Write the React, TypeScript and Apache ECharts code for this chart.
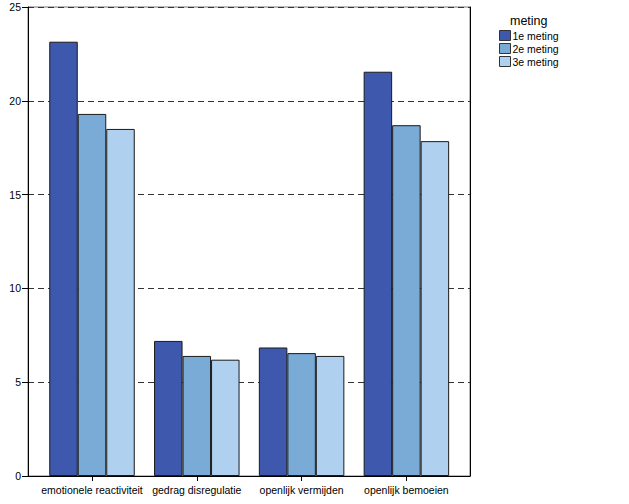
import React, { useEffect, useRef } from "react";
import * as echarts from "echarts";

const categories = ["emotionele reactiviteit", "gedrag disregulatie", "openlijk vermijden", "openlijk bemoeien"];
const seriesNames = ["1e meting", "2e meting", "3e meting"];
const meting1 = [23.15, 7.2, 6.85, 21.55];
const meting2 = [19.3, 6.4, 6.55, 18.7];
const meting3 = [18.5, 6.2, 6.4, 17.85];
const colors = ["#3D58AD", "#7AAAD6", "#AFD0EF"];
const yMin = 0;
const yMax = 25;
const yInterval = 5;

export default function App() {
  const ref = useRef<HTMLDivElement>(null);
  useEffect(() => {
    document.body.style.margin = "0";
    const chart = echarts.init(ref.current!, null, { renderer: "svg" });
    const font = "'Liberation Sans', Arial, sans-serif";
    const data = [meting1, meting2, meting3];
    chart.setOption({
      animation: false,
      backgroundColor: "#ffffff",
      title: {
        text: "meting",
        left: 505,
        top: 9,
        textStyle: { fontFamily: font, fontSize: 12.5, fontWeight: "normal", color: "#000" },
      },
      legend: {
        orient: "vertical",
        left: 494,
        top: 25,
        itemWidth: 11,
        itemHeight: 10,
        itemGap: 2,
        icon: "rect",
        data: seriesNames,
        textStyle: { fontFamily: font, fontSize: 10.5, color: "#000", lineHeight: 11, height: 11, padding: [0, 0, 0, -3] },
        itemStyle: { borderColor: "#333", borderWidth: 1 },
      },
      grid: [
        { left: 39.6, right: 170.2, top: 7, bottom: 28 },
        { left: 28, right: 159, top: 7, bottom: 28, show: true, borderColor: "#777", borderWidth: 1 },
      ],
      xAxis: [
        {
          type: "category",
          gridIndex: 0,
          data: categories,
          axisLine: { show: false },
          axisTick: { show: true, alignWithLabel: true, length: 5, lineStyle: { color: "#000" } },
          axisLabel: { fontFamily: font, fontSize: 10.5, color: "#000", margin: 8, interval: 0 },
        },
        {
          type: "value",
          gridIndex: 1,
          min: 0,
          max: 1,
          axisLine: { show: true, lineStyle: { color: "#000" } },
          axisTick: { show: false },
          axisLabel: { show: false },
          splitLine: { show: false },
        },
      ],
      yAxis: [
        { type: "value", gridIndex: 0, min: yMin, max: yMax, interval: yInterval, show: false },
        {
          type: "value",
          gridIndex: 1,
          min: yMin,
          max: yMax,
          interval: yInterval,
          axisLine: { show: true, lineStyle: { color: "#000" } },
          axisTick: { show: true, length: 6, lineStyle: { color: "#000" } },
          axisLabel: { fontFamily: font, fontSize: 10.5, color: "#000", margin: 7 },
          splitLine: { show: true, lineStyle: { color: "#333", type: [6, 4], width: 1 } },
        },
        {
          type: "value",
          gridIndex: 1,
          position: "right",
          min: yMin,
          max: yMax,
          interval: yInterval,
          axisLine: { show: true, lineStyle: { color: "#000" } },
          axisTick: { show: false },
          axisLabel: { show: false },
          splitLine: { show: false },
        },
      ],
      series: seriesNames.map((name, i) => ({
        name,
        type: "bar",
        xAxisIndex: 0,
        yAxisIndex: 0,
        data: data[i],
        barWidth: 28.5,
        barGap: "0%",
        itemStyle: { color: colors[i], borderColor: "#1a1a1a", borderWidth: 1 },
        z: 3,
      })),
    });
    return () => chart.dispose();
  }, []);
  return <div ref={ref} style={{ width: 629, height: 504 }} />;
}
